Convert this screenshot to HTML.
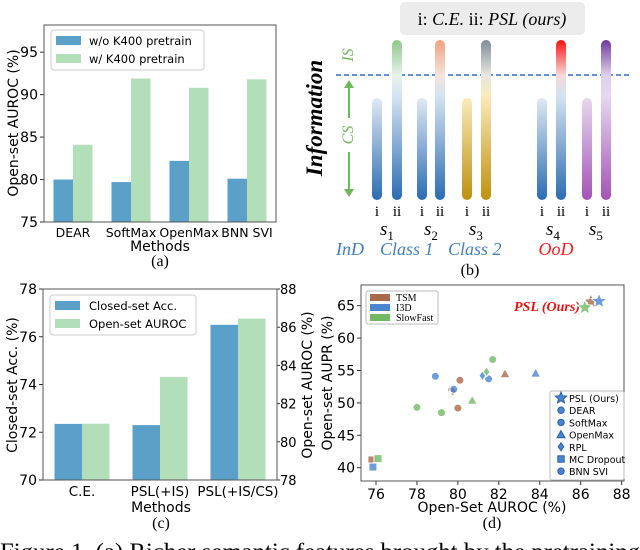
<!DOCTYPE html>
<html><head><meta charset="utf-8"><style>
html,body{margin:0;padding:0;background:#fff;width:640px;height:550px;overflow:hidden}
svg{display:block}
text{font-family:"DejaVu Sans","Liberation Sans",sans-serif}
.serif{font-family:"Liberation Serif",serif}
</style></head><body>
<svg id="fig" width="640" height="550" viewBox="0 0 640 550" xmlns="http://www.w3.org/2000/svg">
<defs>
 <linearGradient id="gBlueI" x1="0" y1="1" x2="0" y2="0"><stop offset="0" stop-color="#2b6cb3"/><stop offset="1" stop-color="#dfe9f4"/></linearGradient>
 <linearGradient id="gS1" x1="0" y1="1" x2="0" y2="0"><stop offset="0" stop-color="#2b6cb3"/><stop offset="0.65" stop-color="#d4e3f2"/><stop offset="0.78" stop-color="#e8f2ea"/><stop offset="1" stop-color="#8cc987"/></linearGradient>
 <linearGradient id="gS2" x1="0" y1="1" x2="0" y2="0"><stop offset="0" stop-color="#2b6cb3"/><stop offset="0.65" stop-color="#d4e3f2"/><stop offset="0.78" stop-color="#f4e4dc"/><stop offset="1" stop-color="#f0a080"/></linearGradient>
 <linearGradient id="gGoldI" x1="0" y1="1" x2="0" y2="0"><stop offset="0" stop-color="#bf900e"/><stop offset="1" stop-color="#fbeab9"/></linearGradient>
 <linearGradient id="gS3" x1="0" y1="1" x2="0" y2="0"><stop offset="0" stop-color="#bf900e"/><stop offset="0.65" stop-color="#fbeab9"/><stop offset="0.78" stop-color="#e8e6e0"/><stop offset="1" stop-color="#7f8c99"/></linearGradient>
 <linearGradient id="gS4" x1="0" y1="1" x2="0" y2="0"><stop offset="0" stop-color="#2b6cb3"/><stop offset="0.65" stop-color="#d4e3f2"/><stop offset="0.78" stop-color="#f6d8d8"/><stop offset="1" stop-color="#ff1010"/></linearGradient>
 <linearGradient id="gPurI" x1="0" y1="1" x2="0" y2="0"><stop offset="0" stop-color="#a452b8"/><stop offset="1" stop-color="#e6d8ef"/></linearGradient>
 <linearGradient id="gS5" x1="0" y1="1" x2="0" y2="0"><stop offset="0" stop-color="#a452b8"/><stop offset="0.65" stop-color="#e6d8ef"/><stop offset="0.78" stop-color="#ddd0ea"/><stop offset="1" stop-color="#6f3a9c"/></linearGradient>
</defs>

<g id="pa">
 <text x="18" y="123" font-size="14" text-anchor="middle" transform="rotate(-90 18 123)">Open-set AUROC (%)</text>
 <text x="160" y="251" font-size="14" text-anchor="middle">Methods</text>
 <text class="serif" x="160" y="266" font-size="16" text-anchor="middle">(a)</text>
</g>

<g id="pc">
 <text x="17" y="385" font-size="14" text-anchor="middle" transform="rotate(-90 17 385)">Closed-set Acc. (%)</text>
 <text x="312" y="385" font-size="14" text-anchor="middle" transform="rotate(-90 312 385)">Open-set AUROC (%)</text>
 <text x="161" y="512" font-size="14" text-anchor="middle">Methods</text>
 <text class="serif" x="161" y="528" font-size="16" text-anchor="middle">(c)</text>
</g>

<g id="pd">
 <text x="332" y="383" font-size="14" text-anchor="middle" transform="rotate(-90 332 383)">Open-set AUPR (%)</text>
 <text x="492" y="512" font-size="14" text-anchor="middle">Open-Set AUROC (%)</text>
 <text class="serif" x="492" y="528" font-size="16" text-anchor="middle">(d)</text>
 <text class="serif" x="514" y="311" font-size="14" font-style="italic" font-weight="bold" fill="#ee1111">PSL (Ours)</text>
</g>

<g id="pb">
 <rect x="400" y="2" width="185" height="33" rx="5" fill="#ececec"/>
 <text class="serif" x="492" y="25" font-size="18" text-anchor="middle">i: <tspan font-style="italic">C.E.</tspan>  ii: <tspan font-style="italic">PSL (ours)</tspan></text>
 <text class="serif" x="322" y="118" font-size="23" font-weight="bold" font-style="italic" text-anchor="middle" transform="rotate(-90 322 118)">Information</text>
 <text class="serif" x="353" y="55" font-size="16" font-style="italic" fill="#6cb85a" text-anchor="middle" transform="rotate(-90 353 55)">IS</text>
 <line x1="349" y1="85" x2="349" y2="118" stroke="#6cb85a" stroke-width="2"/>
 <line x1="349" y1="152" x2="349" y2="192" stroke="#6cb85a" stroke-width="2"/>
 <path d="M344,88 L349,80 L354,88 Z M344,189 L349,197 L354,189 Z" fill="#6cb85a"/>
 <text class="serif" x="353" y="135" font-size="16" font-style="italic" fill="#6cb85a" text-anchor="middle" transform="rotate(-90 353 135)">CS</text>
 <line x1="336" y1="75" x2="632" y2="75" stroke="#2f6fc0" stroke-width="1.6" stroke-dasharray="5,3"/>
 <rect x="372" y="98" width="10" height="102" rx="5" fill="url(#gBlueI)"/>
 <rect x="392" y="40" width="10" height="160" rx="5" fill="url(#gS1)"/>
 <rect x="417" y="98" width="10" height="102" rx="5" fill="url(#gBlueI)"/>
 <rect x="435" y="40" width="10" height="160" rx="5" fill="url(#gS2)"/>
 <rect x="462" y="98" width="10" height="102" rx="5" fill="url(#gGoldI)"/>
 <rect x="481" y="40" width="10" height="160" rx="5" fill="url(#gS3)"/>
 <rect x="537" y="98" width="10" height="102" rx="5" fill="url(#gBlueI)"/>
 <rect x="556" y="40" width="10" height="160" rx="5" fill="url(#gS4)"/>
 <rect x="582" y="98" width="10" height="102" rx="5" fill="url(#gPurI)"/>
 <rect x="601" y="40" width="10" height="160" rx="5" fill="url(#gS5)"/>
 <g class="serif" font-size="15" text-anchor="middle">
  <text x="377" y="216" class="serif">i</text><text x="397" y="216" class="serif">ii</text>
  <text x="422" y="216" class="serif">i</text><text x="440" y="216" class="serif">ii</text>
  <text x="467" y="216" class="serif">i</text><text x="486" y="216" class="serif">ii</text>
  <text x="542" y="216" class="serif">i</text><text x="561" y="216" class="serif">ii</text>
  <text x="587" y="216" class="serif">i</text><text x="606" y="216" class="serif">ii</text>
 </g>
 <g class="serif" font-size="19" font-style="italic">
  <text x="380" y="235" class="serif">s<tspan font-size="13" font-style="normal" dy="5">1</tspan></text>
  <text x="424" y="235" class="serif">s<tspan font-size="13" font-style="normal" dy="5">2</tspan></text>
  <text x="469" y="235" class="serif">s<tspan font-size="13" font-style="normal" dy="5">3</tspan></text>
  <text x="546" y="235" class="serif">s<tspan font-size="13" font-style="normal" dy="5">4</tspan></text>
  <text x="589" y="235" class="serif">s<tspan font-size="13" font-style="normal" dy="5">5</tspan></text>
 </g>
 <text class="serif" x="336" y="255" font-size="18" font-style="italic" fill="#3f7fc4">InD</text>
 <text class="serif" x="380" y="255" font-size="18" font-style="italic" fill="#3f7fc4">Class 1</text>
 <text class="serif" x="448" y="255" font-size="18" font-style="italic" fill="#3f7fc4">Class 2</text>
 <text class="serif" x="556" y="255" font-size="18" font-style="italic" fill="#ff1a1a" text-anchor="middle">OoD</text>
 <text class="serif" x="470" y="275" font-size="16" text-anchor="middle">(b)</text>
</g>

<text class="serif" x="0" y="559" font-size="23" textLength="640" lengthAdjust="spacingAndGlyphs">Figure 1. (a) Richer semantic features brought by the pretraining</text>
</svg>

<script>
// ---- Panel (a) data ----
const aCategories = ["DEAR", "SoftMax", "OpenMax", "BNN SVI"];
const aWithout = [80.0, 79.7, 82.2, 80.1];
const aWith = [84.1, 91.9, 90.8, 91.8];
const aTicks = [75, 80, 85, 90, 95];
// ---- Panel (c) data ----
const cCategories = ["C.E.", "PSL(+IS)", "PSL(+IS/CS)"];
const cClosedAcc = [72.35, 72.3, 76.5];
const cOpenAuroc = [80.95, 83.4, 86.45];
const cLeftTicks = [70, 72, 74, 76, 78];
const cRightTicks = [78, 80, 82, 84, 86, 88];
// ---- Panel (d) data ----
const dXTicks = [76, 78, 80, 82, 84, 86, 88];
const dYTicks = [40, 45, 50, 55, 60, 65];
const dBackbones = ["TSM", "I3D", "SlowFast"];
const dMethods = ["PSL (Ours)", "DEAR", "SoftMax", "OpenMax", "RPL", "MC Dropout", "BNN SVI"];
const dTsmX = [86.5, 80.1, 79.7, 82.3, 79.75, 75.8, 80.0];
const dTsmY = [65.6, 53.5, 52.0, 54.5, 51.8, 41.2, 49.2];
const dI3dX = [86.9, 78.9, 79.8, 83.8, 81.2, 75.85, 81.5];
const dI3dY = [65.7, 54.1, 52.1, 54.6, 54.2, 40.1, 53.7];
const dSfX = [86.2, 81.7, 79.2, 80.7, 81.4, 76.1, 78.0];
const dSfY = [64.7, 56.7, 48.5, 50.4, 54.8, 41.4, 49.3];

const NS = "http://www.w3.org/2000/svg";
const BLUE = "#5ba0c9", GREEN = "#b2dfb9";
function mk(parent, tag, attrs, txt) {
  const e = document.createElementNS(NS, tag);
  for (const k in attrs) e.setAttribute(k, attrs[k]);
  if (txt !== undefined) e.textContent = txt;
  parent.appendChild(e);
  return e;
}

(function(){
  const g = document.getElementById("pa");
  const L=44,R=276,T=25,B=222, y0=75, y1=98.2;
  const ys = v => B - (v - y0) / (y1 - y0) * (B - T);
  const gw = (R-L)/aCategories.length, bw = 19.5;
  aCategories.forEach((c,i)=>{
    const cx = L + gw*(i+0.5);
    let r = mk(g,"rect",{x:cx-bw,y:ys(aWithout[i]),width:bw,height:B-ys(aWithout[i]),fill:BLUE});
    
    
    r = mk(g,"rect",{x:cx,y:ys(aWith[i]),width:bw,height:B-ys(aWith[i]),fill:GREEN});
    
    
    const t = mk(g,"text",{x:cx,y:B+15,"font-size":12.5,"text-anchor":"middle"},c);
    
    
  });
  aTicks.forEach(v=>{
    mk(g,"line",{x1:L-4,x2:L,y1:ys(v),y2:ys(v),stroke:"#333"});
    const t = mk(g,"text",{x:L-6,y:ys(v)+5,"font-size":14,"text-anchor":"end"},String(v));
    
    
  });
  const f = mk(g,"rect",{x:L,y:T,width:R-L,height:B-T,fill:"none",stroke:"#555","stroke-width":1});
  
  
  const lg = mk(g,"g",{});
  
  
  mk(lg,"rect",{x:51,y:30,width:153,height:40,rx:3,fill:"#fff",stroke:"#ccc"});
  mk(lg,"rect",{x:56,y:36,width:25,height:9,fill:BLUE});
  mk(lg,"rect",{x:56,y:54,width:25,height:9,fill:GREEN});
  mk(lg,"text",{x:89,y:45,"font-size":11.5},"w/o K400 pretrain");
  mk(lg,"text",{x:89,y:63,"font-size":11.5},"w/ K400 pretrain");
})();

(function(){
  const g = document.getElementById("pc");
  const L=43,R=277,T=289,B=480;
  const yl = v => B - (v-70)/8*(B-T);
  const yr = v => B - (v-78)/10*(B-T);
  const gw = (R-L)/cCategories.length, bw = 27.5;
  cCategories.forEach((c,i)=>{
    const cx = L + gw*(i+0.5);
    let r = mk(g,"rect",{x:cx-bw,y:yl(cClosedAcc[i]),width:bw,height:B-yl(cClosedAcc[i]),fill:BLUE});
    
    
    r = mk(g,"rect",{x:cx,y:yr(cOpenAuroc[i]),width:bw,height:B-yr(cOpenAuroc[i]),fill:GREEN});
    
    
    const t = mk(g,"text",{x:cx,y:B+16,"font-size":13.5,"text-anchor":"middle"},c);
    
    
  });
  cLeftTicks.forEach(v=>{
    mk(g,"line",{x1:L-4,x2:L,y1:yl(v),y2:yl(v),stroke:"#333"});
    const t = mk(g,"text",{x:L-6,y:yl(v)+5,"font-size":14,"text-anchor":"end"},String(v));
    
    
  });
  cRightTicks.forEach(v=>{
    mk(g,"line",{x1:R,x2:R+3,y1:yr(v),y2:yr(v),stroke:"#333"});
    const t = mk(g,"text",{x:R+3,y:yr(v)+5,"font-size":13},String(v));
    
    
  });
  const f = mk(g,"rect",{x:L,y:T,width:R-L,height:B-T,fill:"none",stroke:"#555"});
  
  
  const lg = mk(g,"g",{});
  
  
  mk(lg,"rect",{x:50,y:295,width:146,height:40,rx:3,fill:"#fff",stroke:"#ccc"});
  mk(lg,"rect",{x:55,y:301,width:25,height:9,fill:BLUE});
  mk(lg,"rect",{x:55,y:319,width:25,height:9,fill:GREEN});
  mk(lg,"text",{x:89,y:310,"font-size":11.5},"Closed-set Acc.");
  mk(lg,"text",{x:89,y:328,"font-size":11.5},"Open-set AUROC");
})();

(function(){
  const g = document.getElementById("pd");
  const L=361,R=624,T=285,B=481;
  const xs = v => 376 + (v-76)*20.47;
  const ys = v => 467.7 - (v-40)*6.48;
  dXTicks.forEach(v=>{
    mk(g,"line",{x1:xs(v),x2:xs(v),y1:B,y2:B+4,stroke:"#333"});
    const t = mk(g,"text",{x:xs(v),y:B+18,"font-size":14,"text-anchor":"middle"},String(v));
    
    
  });
  dYTicks.forEach(v=>{
    mk(g,"line",{x1:L-4,x2:L,y1:ys(v),y2:ys(v),stroke:"#333"});
    const t = mk(g,"text",{x:L-6,y:ys(v)+5,"font-size":14,"text-anchor":"end"},String(v));
    
    
  });
  const f = mk(g,"rect",{x:L,y:T,width:R-L,height:B-T,fill:"none",stroke:"#555"});
  
  
  function marker(parent, m, x, y, fill, stroke, s) {
    let e;
    if (m===0) {
      let p=""; for(let k=0;k<10;k++){const a=-Math.PI/2+k*Math.PI/5, r=k%2?s*0.45:s; p+=(x+r*Math.cos(a)).toFixed(1)+","+(y+r*Math.sin(a)).toFixed(1)+" ";}
      e = mk(parent,"polygon",{points:p,fill:fill,stroke:stroke,"stroke-width":1});
    } else if (m===3) {
      e = mk(parent,"polygon",{points:`${x},${y-s} ${x-s},${y+s*0.8} ${x+s},${y+s*0.8}`,fill:fill,stroke:stroke});
    } else if (m===4) {
      e = mk(parent,"polygon",{points:`${x},${y-s} ${x+s*0.7},${y} ${x},${y+s} ${x-s*0.7},${y}`,fill:fill,stroke:stroke});
    } else if (m===5) {
      e = mk(parent,"rect",{x:x-s*0.8,y:y-s*0.8,width:s*1.6,height:s*1.6,fill:fill,stroke:stroke});
    } else {
      e = mk(parent,"circle",{cx:x,cy:y,r:s*0.8,fill:fill,stroke:stroke});
    }
    return e;
  }
  const series = [[dTsmX,dTsmY,"#a9694b","TSM"],[dI3dX,dI3dY,"#4a86cf","I3D"],[dSfX,dSfY,"#72b865","SlowFast"]];
  series.forEach(([X,Y,col,name])=>{
    X.forEach((xv,i)=>{
      const e = marker(g, i, xs(xv), ys(Y[i]), col+"cc", "#fff", i===0?8:5);
      
      
    });
  });
  const lg = mk(g,"g",{});
  
  
  mk(lg,"rect",{x:366,y:291,width:72,height:33,rx:2,fill:"#fff",stroke:"#bbb"});
  series.forEach(([X,Y,col,name],i)=>{
    mk(lg,"rect",{x:370,y:294+i*10,width:20,height:7,fill:col});
    mk(lg,"text",{x:396,y:301+i*10,"font-size":10,class:"serif"},name);
  });
  const ml = mk(g,"g",{});
  
  
  mk(ml,"rect",{x:550,y:391,width:74,height:89,rx:2,fill:"#fff",stroke:"#bbb"});
  dMethods.forEach((m,i)=>{
    const yy = 398 + i*12.2;
    marker(ml, i, 561, yy, "#4a86cf", "#2b5fa0", i===0?6:4);
    mk(ml,"text",{x:569,y:yy+4,"font-size":9.5},m);
  });
})();
</script>
</body></html>
